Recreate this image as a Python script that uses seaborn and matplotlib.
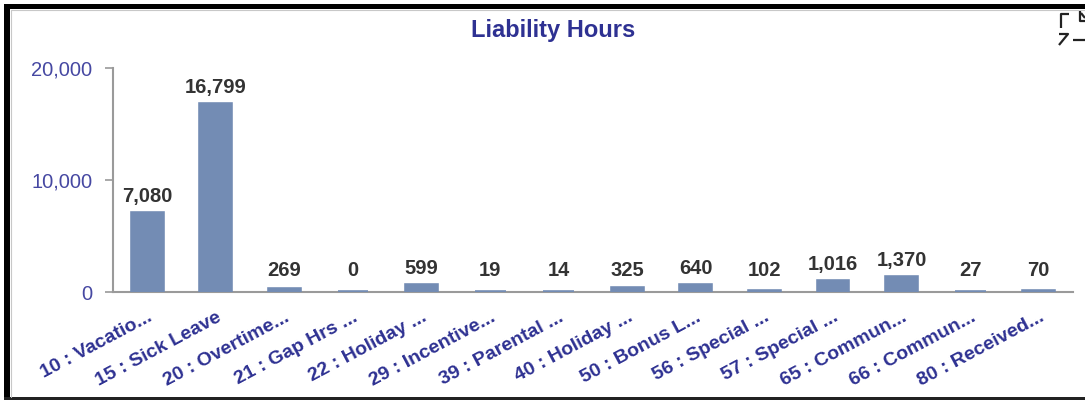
import numpy as np
import pandas as pd
import matplotlib
matplotlib.use("Agg")
import matplotlib.pyplot as plt
from matplotlib.lines import Line2D
from matplotlib.patches import Rectangle
import seaborn as sns

# ---- data ----
categories = [
    "10 : Vacatio...", "15 : Sick Leave", "20 : Overtime...", "21 : Gap Hrs ...",
    "22 : Holiday ...", "29 : Incentive...", "39 : Parental ...", "40 : Holiday ...",
    "50 : Bonus L...", "56 : Special ...", "57 : Special ...", "65 : Commun...",
    "66 : Commun...", "80 : Received...",
]
hours = [7080, 16799, 269, 0, 599, 19, 14, 325, 640, 102, 1016, 1370, 27, 70]
y_ticks = [0, 10000, 20000]
title = "Liability Hours"

df = pd.DataFrame({"category": categories, "hours": hours})

# ---- style ----
sns.set_theme(style="white")
plt.rcParams["font.family"] = ["Liberation Sans", "DejaVu Sans"]

BAR = "#738cb4"
NAVY = "#2e3192"
TICK_BLUE = "#4648a2"
LABEL_DARK = "#333333"
AXIS_GREY = "#9a9a9a"

W, H = 1085, 400
fig = plt.figure(figsize=(W / 100, H / 100), dpi=100)
fig.patch.set_facecolor("white")


def fx(x):
    return x / W


def fy(y):
    return 1 - y / H


ax = fig.add_axes([fx(113), fy(292), fx(1073) - fx(113), fy(68) - fy(292)])

# the outline keeps very small bars visible as a thin stub on the baseline
sns.barplot(data=df, x="category", y="hours", color=BAR, saturation=1,
            width=0.45, edgecolor=BAR, linewidth=2.6, ax=ax)
for p in ax.patches:
    p.set_zorder(4)

ax.set_xlim(-0.5, len(categories) - 0.5)
ax.set_ylim(0, 20000)
ax.set_yticks(y_ticks)
ax.set_yticklabels([f"{v:,}" for v in y_ticks], color=TICK_BLUE, fontsize=14.5)
ax.set_xlabel("")
ax.set_ylabel("")

for side in ("top", "right"):
    ax.spines[side].set_visible(False)
for side in ("left", "bottom"):
    ax.spines[side].set_color(AXIS_GREY)
    ax.spines[side].set_linewidth(1.5)
    ax.spines[side].set_zorder(3)

ax.tick_params(axis="y", direction="out", length=6, width=1.2, color=AXIS_GREY, pad=9, left=True)
ax.tick_params(axis="x", length=0, pad=12)
ax.set_xticks(range(len(categories)))
ax.set_xticklabels(categories, rotation=28, ha="right", va="top",
                   rotation_mode="anchor", color=NAVY, fontsize=14, fontweight="bold")

# value labels above each bar (small bars keep a minimum label height)
min_label_base = 450
for i, v in enumerate(hours):
    ax.annotate(f"{v:,}", xy=(i, max(v, min_label_base)), xytext=(0, 5),
                textcoords="offset points", ha="center", va="bottom",
                fontsize=14.5, fontweight="bold", color=LABEL_DARK, zorder=5)

fig.text(fx(553), fy(30.5), title, ha="center", va="center",
         fontsize=17, fontweight="bold", color=NAVY)

# panel frame
fig.add_artist(Rectangle((fx(4), fy(400)), fx(6), fy(4) - fy(400), transform=fig.transFigure,
                         facecolor="black", edgecolor="none"))
fig.add_artist(Rectangle((fx(4), fy(9)), 1 - fx(4), fy(4) - fy(9), transform=fig.transFigure,
                         facecolor="black", edgecolor="none"))
fig.add_artist(Rectangle((fx(4), fy(400)), 1 - fx(4), fy(397) - fy(400), transform=fig.transFigure,
                         facecolor="#222222", edgecolor="none"))
fig.add_artist(Line2D([fx(10.5), fx(10.5)], [fy(397), fy(9.5)], transform=fig.transFigure,
                      color="#c8c8c8", lw=0.8))
fig.add_artist(Line2D([fx(10.5), 1], [fy(9.5), fy(9.5)], transform=fig.transFigure,
                      color="#c8c8c8", lw=0.8))

# expand / collapse icon in the corner
icon = dict(transform=fig.transFigure, color="#222222", lw=1.6, solid_capstyle="butt")
fig.add_artist(Line2D([fx(1061), fx(1061), fx(1069)], [fy(28), fy(14), fy(14)], **icon))
fig.add_artist(Line2D([fx(1080), fx(1080), fx(1085)], [fy(11), fy(21), fy(21)], **icon))
fig.add_artist(Line2D([fx(1081), fx(1085)], [fy(13), fy(18)], **icon))
fig.add_artist(Line2D([fx(1059), fx(1068), fx(1059)], [fy(34), fy(34), fy(45)], **icon))
fig.add_artist(Line2D([fx(1073), fx(1085)], [fy(40), fy(40)], **icon))

fig.savefig("out.png", dpi=100, facecolor="white")
